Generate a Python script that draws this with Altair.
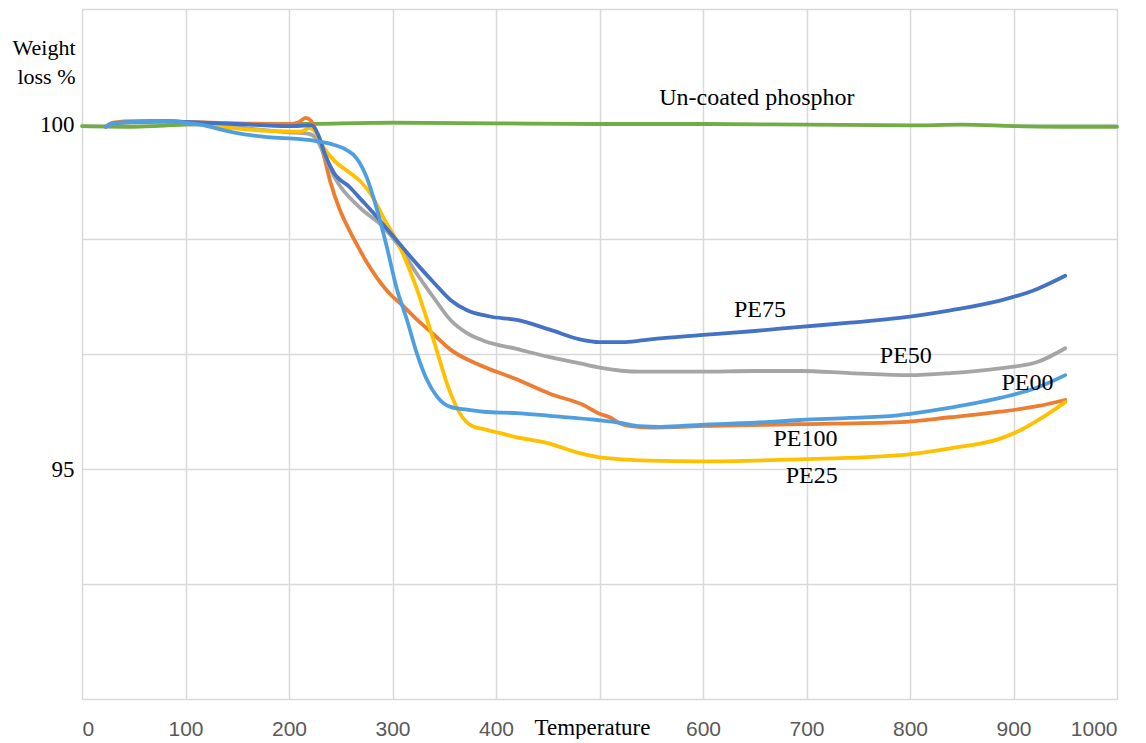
import altair as alt
import pandas as pd

# ---------------- data ----------------
temp_uncoated = [0, 50, 100, 150, 200, 300, 400, 500, 600, 700, 800, 850, 900, 950, 1000]
wt_uncoated = [99.97, 99.96, 99.99, 100.0, 100.0, 100.02, 100.01, 100.0, 100.0, 99.99, 99.98, 99.99, 99.97, 99.96, 99.96]

temp_pe100 = [23, 30, 50, 80, 100, 150, 200, 210, 216, 221, 227, 233, 240, 249, 259, 266, 275, 285, 300, 307,
              324, 339, 356, 387, 420, 452, 484, 500, 510, 520, 530, 549, 597, 694, 790, 839, 887, 923, 950]
wt_pe100 = [99.96, 100.02, 100.04, 100.04, 100.03, 100.01, 100.0, 100.03, 100.09, 100.05, 99.87, 99.58, 99.16,
            98.76, 98.44, 98.24, 98.0, 97.77, 97.5, 97.41, 97.16, 96.96, 96.73, 96.49, 96.3, 96.09, 95.93, 95.8,
            95.75, 95.66, 95.62, 95.6, 95.62, 95.65, 95.68, 95.75, 95.83, 95.91, 96.0]

temp_pe50 = [23, 30, 50, 80, 100, 150, 200, 218, 226, 232, 245, 269, 291, 307, 323, 339, 356, 372, 388, 420,
             452, 481, 500, 539, 597, 650, 694, 742, 800, 839, 887, 923, 950]
wt_pe50 = [99.96, 100.01, 100.03, 100.04, 100.02, 99.95, 99.88, 99.86, 99.8, 99.62, 99.2, 98.78, 98.51, 98.22,
           97.84, 97.5, 97.16, 96.97, 96.86, 96.74, 96.62, 96.53, 96.47, 96.41, 96.41, 96.42, 96.42, 96.39, 96.36,
           96.39, 96.46, 96.55, 96.75]

temp_pe25 = [23, 30, 50, 80, 100, 146, 180, 211, 220, 227, 233, 243, 259, 269, 281, 291, 307, 324, 339, 356,
             365, 375, 390, 404, 417, 449, 481, 500, 513, 549, 597, 694, 790, 839, 887, 909, 923, 950]
wt_pe25 = [99.96, 100.01, 100.03, 100.04, 100.03, 99.94, 99.9, 99.89, 99.94, 99.85, 99.67, 99.48, 99.29, 99.17,
           98.94, 98.65, 98.22, 97.59, 96.9, 96.1, 95.81, 95.64, 95.57, 95.52, 95.47, 95.38, 95.23, 95.17, 95.15,
           95.12, 95.11, 95.14, 95.2, 95.3, 95.44, 95.58, 95.7, 95.97]

temp_pe75 = [23, 30, 50, 80, 100, 150, 200, 222, 228, 235, 243, 259, 270, 281, 298, 323, 340, 356, 372, 394,
             420, 452, 481, 500, 525, 549, 597, 650, 694, 742, 790, 839, 887, 923, 950]
wt_pe75 = [99.96, 100.01, 100.03, 100.04, 100.03, 100.0, 99.97, 99.98, 99.85, 99.55, 99.3, 99.08, 98.9, 98.72,
           98.42, 97.98, 97.7, 97.45, 97.3, 97.21, 97.16, 97.02, 96.88, 96.84, 96.84, 96.88, 96.94, 97.0, 97.06,
           97.12, 97.19, 97.3, 97.44, 97.61, 97.8]

temp_pe00 = [23, 30, 50, 80, 100, 114, 146, 179, 211, 227, 243, 256, 265, 275, 285, 294, 304, 314, 323, 333,
             343, 356, 372, 388, 420, 452, 498, 520, 539, 560, 597, 650, 694, 742, 790, 800, 839, 887, 923, 950]
wt_pe00 = [99.96, 100.01, 100.03, 100.04, 100.02, 99.99, 99.88, 99.81, 99.78, 99.75, 99.7, 99.62, 99.51, 99.23,
           98.76, 98.25, 97.62, 97.16, 96.7, 96.3, 96.05, 95.9, 95.86, 95.83, 95.81, 95.77, 95.71, 95.67, 95.62,
           95.61, 95.64, 95.67, 95.71, 95.74, 95.78, 95.8, 95.89, 96.03, 96.18, 96.36]

series_names = ["Un-coated phosphor", "PE100", "PE50", "PE25", "PE75", "PE00"]
series_colors = ["#70ad47", "#ed7d31", "#a5a5a5", "#ffc000", "#4472c4", "#4f9fe0"]
series_temps = [temp_uncoated, temp_pe100, temp_pe50, temp_pe25, temp_pe75, temp_pe00]
series_wts = [wt_uncoated, wt_pe100, wt_pe50, wt_pe25, wt_pe75, wt_pe00]

label_text = ["Un-coated phosphor", "PE75", "PE50", "PE00", "PE100", "PE25"]
label_x = [652, 655, 796, 913.5, 699, 705]
label_y = [100.275, 97.207, 96.532, 96.145, 95.338, 94.793]

x_ticks = [0, 100, 200, 300, 400, 500, 600, 700, 800, 900, 1000]
y_grid = [91.6667, 93.3333, 95.0, 96.6667, 98.3333, 100.0, 101.6667]
y_labels = [95, 100]
y_min, y_max = 91.6667, 101.6667

# ---------------- chart ----------------
frames = []
for n, t, w in zip(series_names, series_temps, series_wts):
    frames.append(pd.DataFrame({"T": t, "W": w, "series": n}))
df = pd.concat(frames, ignore_index=True)
labels_df = pd.DataFrame({"text": label_text, "T": label_x, "W": label_y})

x_scale = alt.Scale(domain=[0, 1000], nice=False, zero=False)
y_scale = alt.Scale(domain=[y_min, y_max], nice=False, zero=False)

y_label_expr = " : ".join(
    [f"abs(datum.value - {v}) < 0.01 ? '{v}'" for v in y_labels]
) + " : ''"

x_axis = alt.Axis(
    values=x_ticks,
    format="d",
    labelExpr="datum.value == 500 ? '' : format(datum.value, 'd')",
    grid=True, gridColor="#d9d9d9", gridWidth=1.5,
    domain=False, ticks=False, tickSize=0,
    labelFont="Liberation Sans", labelFontSize=21, labelColor="#595959",
    labelPadding=19,
    title="Temperature", titleFont="Liberation Serif", titleFontSize=23,
    titleFontWeight="normal", titleColor="black",
    titleX=510, titleY=35, titleAlign="center", titleBaseline="alphabetic",
)
y_axis = alt.Axis(
    values=y_grid,
    labelExpr=y_label_expr,
    grid=True, gridColor="#d9d9d9", gridWidth=1.5,
    domain=False, ticks=False, tickSize=0,
    labelFont="Liberation Serif", labelFontSize=23, labelColor="black",
    labelPadding=8,
    title=["Weight", "loss %"], titleFont="Liberation Serif", titleFontSize=22,
    titleFontWeight="normal", titleColor="black", titleAngle=0,
    titleAlign="right", titleBaseline="alphabetic",
    titleX=-7, titleY=45, titleLineHeight=29.5,
)

layers = []
for n, c in zip(series_names, series_colors):
    layers.append(
        alt.Chart(df)
        .transform_filter(alt.datum.series == n)
        .mark_line(color=c, strokeWidth=3.8, interpolate="monotone", strokeCap="round")
        .encode(
            x=alt.X("T:Q", scale=x_scale, axis=x_axis),
            y=alt.Y("W:Q", scale=y_scale, axis=y_axis),
        )
    )

text_layer = alt.Chart(labels_df).mark_text(
    font="Liberation Serif", fontSize=24, color="black", align="center", baseline="alphabetic"
).encode(
    x=alt.X("T:Q", scale=x_scale, axis=x_axis),
    y=alt.Y("W:Q", scale=y_scale, axis=y_axis),
    text="text:N",
)

chart = (
    alt.layer(*layers, text_layer)
    .properties(
        width=1035, height=690,
        padding={"left": 74, "top": 1, "right": 21, "bottom": 40},
        autosize=alt.AutoSizeParams(type="none"),
    )
    .configure_view(stroke=None)
    .configure_axis(titleFont="Liberation Serif", titleFontWeight="normal")
    .configure(background="white")
)

chart.save("out.html", embed_options={"renderer": "svg", "actions": False})
